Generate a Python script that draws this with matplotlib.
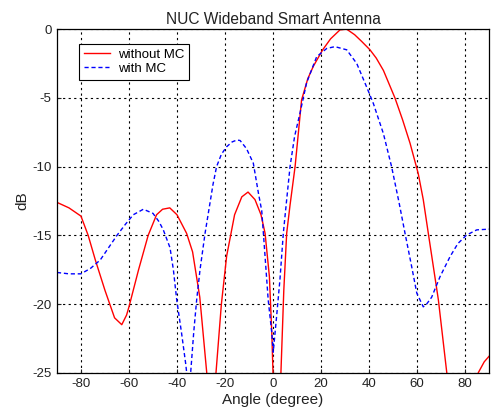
import numpy as np
import matplotlib
matplotlib.use("Agg")
import matplotlib.pyplot as plt

plt.rcParams['font.family'] = ['Liberation Sans', 'DejaVu Sans']
plt.rcParams['axes.unicode_minus'] = False

# without MC (red, solid)
ang_red = [-90, -85, -80, -77, -74, -70, -66, -63, -61, -60, -56, -52, -48.5, -46, -43,
           -40, -36, -33.5, -30.5, -27.6, -26, -24.5, -23.75, -21.5, -19.3, -16, -13, -10.4,
           -7.5, -5, -3.3, -1.5, -0.5, 0, 0.5, 2.5, 3.3, 4.5, 5.7, 7.1, 9.2, 11.9, 14.5,
           16.8, 20.7, 24, 27.9, 30.7, 34, 37, 40.4, 43, 46, 50.8, 54, 57.1, 60.5, 62.6,
           64.7, 68.9, 72.4, 74, 78, 82, 85.5, 88, 90]
db_red = [-12.6, -13.0, -13.6, -15.0, -16.8, -19.0, -21.0, -21.5, -20.8, -20.2, -17.5, -15.0,
          -13.5, -13.1, -13.0, -13.5, -14.85, -16.2, -19.5, -25, -30, -27, -25, -20, -16.5,
          -13.5, -12.2, -11.85, -12.4, -13.5, -14.85, -18, -22.1, -25, -30, -30, -25, -19,
          -14.85, -12.8, -10, -5.15, -3.6, -2.7, -1.5, -0.7, -0.05, 0, -0.4, -0.9, -1.5,
          -2.1, -3.0, -5.0, -6.6, -8.3, -10.5, -12.4, -14.85, -19.7, -25, -30, -35, -35,
          -25, -24.2, -23.8]

# with MC (blue, dashed)
ang_blue = [-90, -85, -80, -76, -72, -68.5, -65, -61.5, -58.2, -54, -50, -47.5, -45.7, -42.9,
            -41.5, -40.1, -38.1, -36.4, -35.3, -34.3, -33, -31.8, -30.4, -28.3, -26.3, -25,
            -23.5, -21.5, -19.3, -17, -15, -13.7, -11, -8.2, -6.1, -4.7, -4.0, -2, -0.5, 0.1,
            1.5, 2.9, 4.3, 5.7, 7.1, 9, 11.25, 14, 18.2, 22.4, 25.8, 30.7, 34.9, 39, 41.8,
            46, 49.4, 52.5, 55, 57.8, 59.9, 62.6, 64, 66.1, 69.6, 73.75, 77, 80.7, 84.9, 90]
db_blue = [-17.7, -17.8, -17.8, -17.4, -16.8, -15.9, -15.0, -14.2, -13.5, -13.1, -13.4, -14.0,
           -14.6, -15.9, -17.5, -19.7, -22.1, -24.3, -26, -25, -22, -19.7, -17.5, -14.85,
           -12.7, -11.3, -10, -9.1, -8.55, -8.2, -8.06, -8.1, -8.7, -9.75, -11.9, -13.2,
           -14.85, -19.7, -22.1, -23.5, -20.9, -18.2, -14.85, -12.4, -10, -7.8, -6.1, -3.9,
           -2.0, -1.4, -1.27, -1.5, -2.5, -4.2, -5.4, -7.6, -10, -12.6, -14.85, -17.3,
           -19.2, -20.2, -20.0, -19.5, -18, -16.55, -15.6, -14.97, -14.6, -14.55]

fig = plt.figure(figsize=(4.91, 4.17), dpi=100)
ax = fig.add_axes([0.116, 0.106, 0.880, 0.824])

ax.plot(ang_red, db_red, color='#ff0000', lw=1.0, label='without MC')
ax.plot(ang_blue, db_blue, color='#0000ff', lw=1.0, linestyle=(0, (3, 2)), label='with MC')

ax.set_xlim(-90, 90)
ax.set_ylim(-25, 0)
ax.set_xticks(np.arange(-80, 81, 20))
ax.set_yticks(np.arange(-25, 1, 5))
ax.grid(True, color='black', linestyle=(0, (2, 3)), lw=0.8)
ax.tick_params(direction='in', length=3, labelsize=9.5, colors='#222222', pad=4)
for s in ax.spines.values():
    s.set_linewidth(0.9)

ax.set_title('NUC Wideband Smart Antenna', fontsize=11.2, color='#222222', pad=4)
ax.set_xlabel('Angle (degree)', fontsize=11, color='#222222', labelpad=2)
ax.set_ylabel('dB', fontsize=11, color='#222222', labelpad=2)

leg = ax.legend(loc='upper left', bbox_to_anchor=(0.051, 0.957), borderaxespad=0,
                fontsize=9.5, fancybox=False, framealpha=1, edgecolor='black',
                handlelength=2.0, handletextpad=0.6, borderpad=0.35, labelspacing=0.15)
leg.get_frame().set_linewidth(0.8)

fig.savefig('out.png', dpi=100)
